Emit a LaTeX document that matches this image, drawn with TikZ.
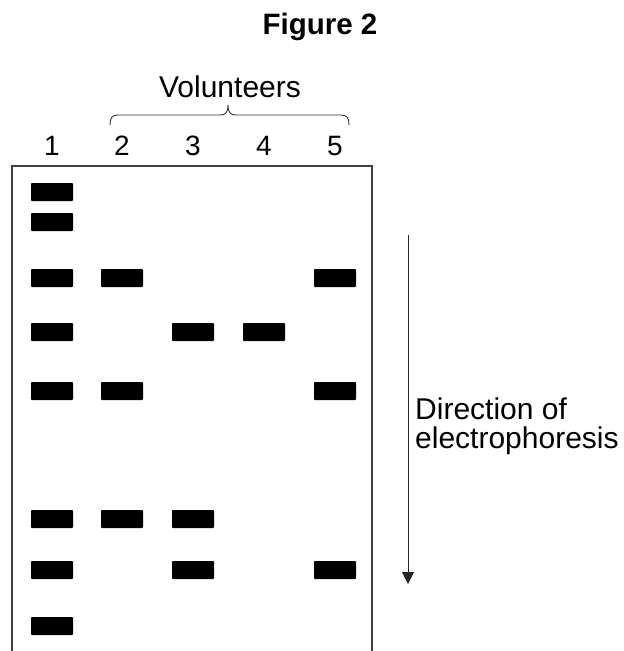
\documentclass[tikz,border=0pt]{standalone}
\usepackage{fontspec}
\setmainfont{Liberation Sans}
\usetikzlibrary{arrows.meta}
\begin{document}
\begin{tikzpicture}[x=1pt,y=-1pt,
  band/.style={fill=black,draw=none,minimum width=42pt,minimum height=18pt,inner sep=0pt,rounded corners=0.8pt},
  lbl/.style={font=\fontsize{28}{30}\selectfont,inner sep=0pt,anchor=base},
  gel/.style={draw=black!75,line width=1.4pt}]
\useasboundingbox (0,0) rectangle (624,651);
% title
\node[font=\bfseries\fontsize{29.5}{32}\selectfont,inner sep=0pt,anchor=base] (title) at (320,34) {Figure 2};
% volunteers label and brace
\node[font=\fontsize{30}{32}\selectfont,inner sep=0pt,anchor=base] (vol) at (230,97) {Volunteers};
\draw[line width=0.9pt,black!80] (110,125) .. controls (110,118) and (112,115) .. (118,115) -- (220,115)
  .. controls (226,115) and (228,112) .. (228,105)
  .. controls (228,112) and (230,115) .. (236,115) -- (341,115)
  .. controls (347,115) and (349,118) .. (349,125);
% lane numbers
\foreach \i/\x in {1/52,2/122,3/193,4/264,5/335}{
  \node[lbl] (n\i) at (\x,155) {\i};
}
% gel outline (open at bottom)
\coordinate (gbl) at (12,651);
\coordinate (gtl) at (12,166);
\coordinate (gtr) at (372,166);
\coordinate (gbr) at (372,651);
\draw[gel] (gbl) -- (gtl) -- (gtr) -- (gbr);
% bands
\foreach \l/\x in {1/52,2/122,3/193,4/264,5/335}{\coordinate (lane\l) at (\x,0);}
\foreach \name/\l/\y in {a1/1/192,a2/1/222,a3/1/278,a4/1/332,a5/1/391,a6/1/519,a7/1/570,a8/1/626,
  b3/2/278,b5/2/391,b6/2/519,
  c4/3/332,c6/3/519,c7/3/570,
  d4/4/332,
  e3/5/278,e5/5/391,e7/5/570}{
  \node[band] (\name) at (lane\l |- 0,\y) {};
}
% direction arrow
\coordinate (arrS) at (408,235);
\coordinate (arrE) at (408,584);
\draw[line width=1pt,black!85,-{Triangle[length=12pt,width=12pt]}] (arrS) -- (arrE);
\node[font=\fontsize{30}{28.5}\selectfont,inner sep=0pt,anchor=north west,align=left] (dir) at (415,398) {Direction of\\electrophoresis};
\end{tikzpicture}
\end{document}
